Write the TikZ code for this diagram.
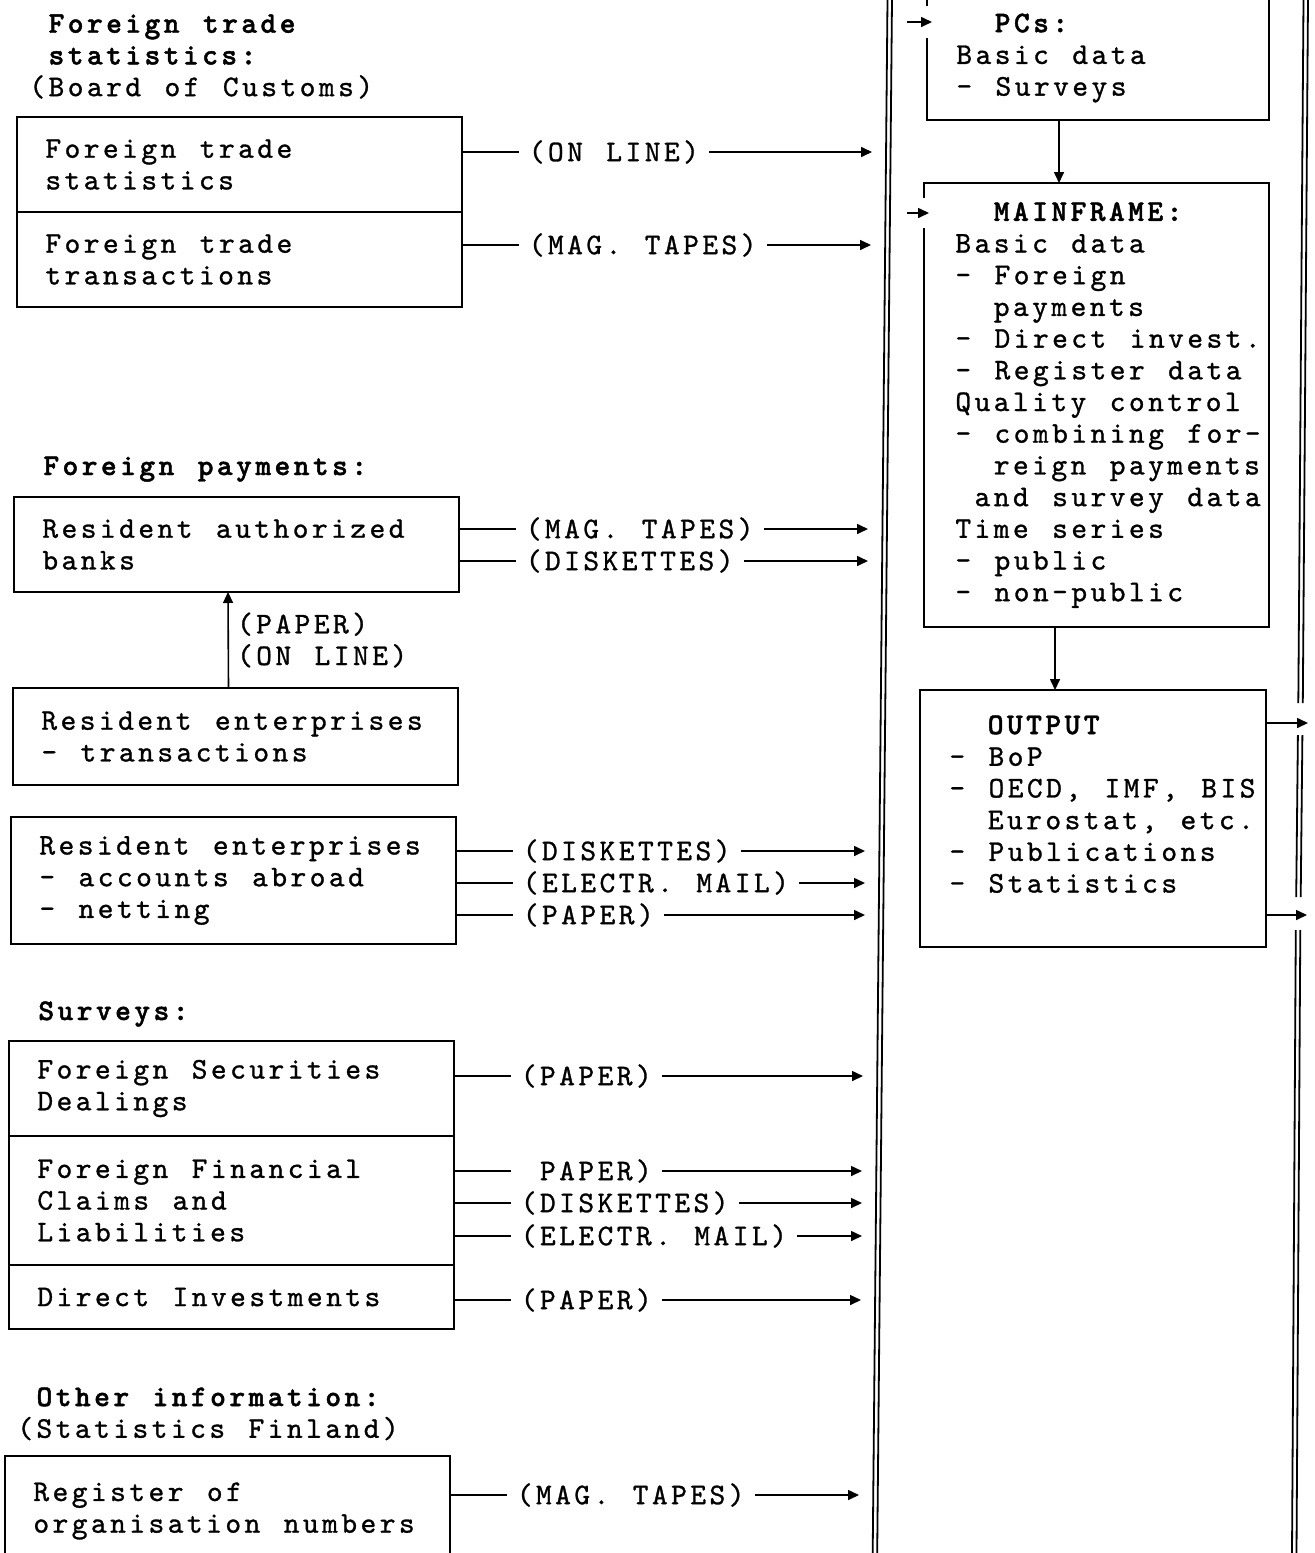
\documentclass[tikz,border=0pt]{standalone}
\usepackage{fontspec}
\setmainfont{lmmono10-regular.otf}[BoldFont=lmmonolt10-bold.otf,
  LetterSpace=11.5,WordSpace=1.22,
  UprightFeatures={FakeBold=1},BoldFeatures={FakeBold=1.5}]
\usepackage{tikz}
\usetikzlibrary{arrows.meta,positioning,calc}
\newcommand{\ind}{\hspace*{9.6pt}}

\begin{document}
\begin{tikzpicture}[x=0.5pt,y=-0.5pt,font=\fontsize{15}{15.85}\selectfont,
   box/.style={draw,line width=1pt,minimum width=222.5pt,anchor=north west,
               inner sep=0pt,outer sep=0pt},
   txt/.style={align=left,inner sep=0pt},
   lbl/.style={fill=white,anchor=west,inner xsep=5pt,inner ysep=1pt},
   arr/.style={line width=0.8pt,-{Triangle[length=5.5pt,width=5pt]}},
   rail/.style={line width=0.9pt}]
  \useasboundingbox (0,0) rectangle (1314,1553);
  \clip (0,0) rectangle (1314,1553);

  % sources
  \node[txt,anchor=north west] (hft) at (29,14)
    {\ind\textbf{Foreign trade}\\\ind\textbf{statistics:}\\(Board of Customs)};
  \node[box,minimum height=47.5pt] (ftstat) at (17,117) {};
  \node[box,minimum height=47.5pt,below=0pt of ftstat] (fttrans) {};
  \node[txt,right=14pt of ftstat.west] (ftstat-t) {Foreign trade\\statistics};
  \node[txt,right=14pt of fttrans.west] (fttrans-t) {Foreign trade\\transactions};

  \node[txt,anchor=base west] (hpay) at (43,475) {\textbf{Foreign payments:}};
  \node[box,minimum height=47.5pt] (banks) at (14,497) {};
  \node[txt,right=14pt of banks.west] (banks-t) {Resident authorized\\banks};
  \node[box,minimum height=48.5pt] (enttr) at (13,688) {};
  \node[txt,right=14pt of enttr.west] (enttr-t) {Resident enterprises\\- transactions};
  \node[box,minimum height=63.5pt] (entacc) at (11,817) {};
  \node[txt,right=14pt of entacc.west] (entacc-t)
    {Resident enterprises\\- accounts abroad\\- netting};

  \node[txt,anchor=base west] (hsur) at (38,1020) {\textbf{Surveys:}};
  \node[box,minimum height=47.5pt] (fsd) at (9,1041) {};
  \node[box,minimum height=64.5pt,below=0pt of fsd] (ffcl) {};
  \node[box,minimum height=32pt,below=0pt of ffcl] (di) {};
  \node[txt,right=14pt of fsd.west] (fsd-t) {Foreign Securities\\Dealings};
  \node[txt,right=14pt of ffcl.west] (ffcl-t) {Foreign Financial\\Claims and\\Liabilities};
  \node[txt,right=14pt of di.west] (di-t) {Direct Investments};

  \node[txt,anchor=north west] (hoth) at (17,1387)
    {\ind\textbf{Other information:}\\(Statistics Finland)};
  \node[box,minimum height=55pt] (reg) at (5,1456) {};
  \node[txt,right=14pt of reg.west] (reg-t) {Register of\\organisation numbers};

  % rails
  \draw[rail] (887.5,0) -- (872.7,1553);
  \draw[rail] (892,0) -- (877.2,1553);
  \draw[rail] (1303.5,0) -- (1298.3,703) (1297.9,735) -- (1296.2,897) (1295.8,930) -- (1292,1553);
  \draw[rail] (1308,0) -- (1302.8,703) (1302.4,735) -- (1300.7,897) (1300.3,930) -- (1296.5,1553);

  % data bank
  \node[box,minimum width=171pt,minimum height=62pt] (pcs) at (927,-4) {};
  \node[txt,right=14.5pt of pcs.west] (pcs-t) {\ind\ind\textbf{PCs:}\\Basic data\\- Surveys};
  \node[box,minimum width=172.5pt,minimum height=222pt] (mf) at (924,183) {};
  \node[txt,right=15.5pt of mf.west] (mf-t)
    {\ind\ind\textbf{MAINFRAME:}\\Basic data\\- Foreign\\\ind\ind payments\\
     - Direct invest.\\- Register data\\Quality control\\- combining for-\\
     \ind\ind reign payments\\\ind and survey data\\Time series\\- public\\- non-public};
  \node[box,minimum width=173pt,minimum height=128.5pt] (out) at (920,690) {};
  \node[txt,anchor=north west,below right=12.5pt and 14.5pt of out.north west] (out-t)
    {\ind\ind\textbf{OUTPUT}\\- BoP\\- OECD, IMF, BIS\\\ind\ind Eurostat, etc.\\
     - Publications\\- Statistics};

  \coordinate (r1) at (872,152);
  \coordinate (r2) at (871,245);
  \coordinate (r3) at (868,529);
  \coordinate (r4) at (868,561);
  \coordinate (r5) at (865,851);
  \coordinate (r6) at (865,883);
  \coordinate (r7) at (865,915);
  \coordinate (r8) at (863,1076);
  \coordinate (r9) at (862,1171);
  \coordinate (r10) at (862,1203);
  \coordinate (r11) at (862,1236);
  \coordinate (r12) at (861,1300);
  \coordinate (r13) at (859,1495);
  \coordinate (p1) at (907,22);
  \coordinate (p2) at (907,213);
  \coordinate (e1) at (1308,723);
  \coordinate (e2) at (1307,915);

  \draw[arr] (r1 -| ftstat.east) -- ++(56,0) node[lbl] (l1) {(ON LINE)} -- (r1);
  \draw[arr] (r2 -| fttrans.east) -- ++(56,0) node[lbl] (l2) {(MAG. TAPES)} -- (r2);
  \draw[arr] (r3 -| banks.east) -- ++(56,0) node[lbl] (l3) {(MAG. TAPES)} -- (r3);
  \draw[arr] (r4 -| banks.east) -- ++(56,0) node[lbl] (l4) {(DISKETTES)} -- (r4);
  \draw[arr] (r5 -| entacc.east) -- ++(56,0) node[lbl] (l5) {(DISKETTES)} -- (r5);
  \draw[arr] (r6 -| entacc.east) -- ++(56,0) node[lbl] (l6) {(ELECTR. MAIL)} -- (r6);
  \draw[arr] (r7 -| entacc.east) -- ++(56,0) node[lbl] (l7) {(PAPER)} -- (r7);
  \draw[arr] (r8 -| fsd.east) -- ++(56,0) node[lbl] (l8) {(PAPER)} -- (r8);
  \draw[arr] (r9 -| ffcl.east) -- ++(56,0) node[lbl] (l9) {\ind PAPER)} -- (r9);
  \draw[arr] (r10 -| ffcl.east) -- ++(56,0) node[lbl] (l10) {(DISKETTES)} -- (r10);
  \draw[arr] (r11 -| ffcl.east) -- ++(56,0) node[lbl] (l11) {(ELECTR. MAIL)} -- (r11);
  \draw[arr] (r12 -| di.east) -- ++(56,0) node[lbl] (l12) {(PAPER)} -- (r12);
  \draw[arr] (r13 -| reg.east) -- ++(56,0) node[lbl] (l13) {(MAG. TAPES)} -- (r13);

  \draw[arr] ([xshift=-3.5pt]enttr.north) -- node[txt,midway,right,inner xsep=4pt] (lup)
    {(PAPER)\\(ON LINE)} ([xshift=-4.25pt]banks.south);

  \fill[white] ($(p1 -| pcs.west)+(-3,-16)$) rectangle ++(6,32);
  \fill[white] ($(p2 -| mf.west)+(-3,-15)$) rectangle ++(6,30);
  \draw[arr,shorten >=-2.5pt] (p1) -- (p1 -| pcs.west);
  \draw[arr,shorten >=-2.5pt] (p2) -- (p2 -| mf.west);
  \draw[arr] ([xshift=-19.5pt]pcs.south) -- ([xshift=-18.75pt]mf.north);
  \draw[arr] ([xshift=-20.75pt]mf.south) -- ([xshift=-19pt]out.north);
  \draw[arr] (e1 -| out.east) -- (e1);
  \draw[arr] (e2 -| out.east) -- (e2);
\end{tikzpicture}
\end{document}
